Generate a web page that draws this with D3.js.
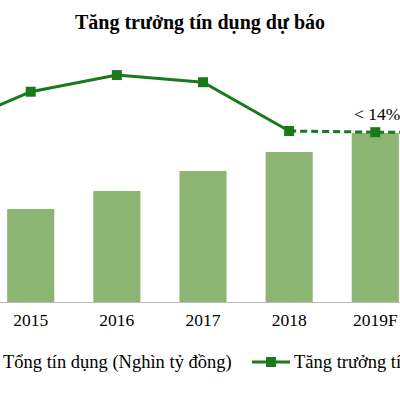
<!DOCTYPE html>
<html><head><meta charset="utf-8">
<script src="https://cdn.jsdelivr.net/npm/d3@7"></script>
<style>body{margin:0;background:#fff}</style></head>
<body><svg id="c" width="400" height="400"></svg>
<script>
const categories=["2014","2015","2016","2017","2018","2019F","2020F"];
const tickLabels=["2015","2016","2017","2018","2019F"];
const credit=[4.0,4.65,5.55,6.55,7.5,8.45,null];
const growth=[14.2,17.3,18.7,18.1,14.0,13.9,13.9];
const svg=d3.select("#c");
const x=d3.scaleBand().domain(categories).range([-55.5-43,375.5+43+86]).paddingInner(0.453).paddingOuter(0.2265);
const yB=d3.scaleLinear().domain([0,10]).range([302,102]);
const yL=d3.scaleLinear().domain([0,20]).range([297.6,59.6]);
const cx=d=>x(d)+x.bandwidth()/2;
const font="Liberation Serif, Times New Roman, serif";
svg.append("text").attr("x",200).attr("y",29).attr("text-anchor","middle").attr("font-family",font).attr("font-weight","bold").attr("font-size",20).text("Tăng trưởng tín dụng dự báo");
svg.selectAll("rect.b").data(categories.map((c,i)=>({c,v:credit[i]})).filter(d=>d.v!=null)).join("rect")
 .attr("x",d=>x(d.c)).attr("width",x.bandwidth()).attr("y",d=>yB(d.v)).attr("height",d=>yB(0)-yB(d.v)).attr("fill","#8cb574");
svg.append("line").attr("x1",0).attr("x2",400).attr("y1",302.5).attr("y2",302.5).attr("stroke","#bbb");
const ax=svg.append("g").attr("transform","translate(0,302)").call(d3.axisBottom(x).tickValues(tickLabels).tickSize(0).tickPadding(12));
ax.select(".domain").remove();
ax.selectAll("text").attr("font-family",font).attr("font-size",17.5).attr("fill","#000");
const pts=categories.map((c,i)=>[cx(c),yL(growth[i])]);
const line=d3.line();
svg.append("path").attr("d",line(pts.slice(0,5))).attr("fill","none").attr("stroke","#1a7a1a").attr("stroke-width",3);
svg.append("path").attr("d",line(pts.slice(4))).attr("fill","none").attr("stroke","#1a7a1a").attr("stroke-width",3).attr("stroke-dasharray","7,4");
svg.selectAll("rect.m").data(pts.slice(0,6)).join("rect").attr("x",d=>d[0]-5).attr("y",d=>d[1]-5).attr("width",10).attr("height",10).attr("fill","#1a7a1a");
svg.append("text").attr("x",cx("2019F")+2).attr("y",yL(growth[5])-12).attr("text-anchor","middle").attr("font-family",font).attr("font-size",17.5).text("< 14%");
svg.append("text").attr("x",3).attr("y",368).attr("font-family",font).attr("font-size",18.5).text("Tổng tín dụng (Nghìn tỷ đồng)");
svg.append("line").attr("x1",252).attr("x2",290).attr("y1",362).attr("y2",362).attr("stroke","#1a7a1a").attr("stroke-width",3);
svg.append("rect").attr("x",266).attr("y",357).attr("width",10).attr("height",10).attr("fill","#1a7a1a");
svg.append("text").attr("x",294).attr("y",368).attr("font-family",font).attr("font-size",18.5).text("Tăng trưởng tín dụng (%)");
</script></body></html>
